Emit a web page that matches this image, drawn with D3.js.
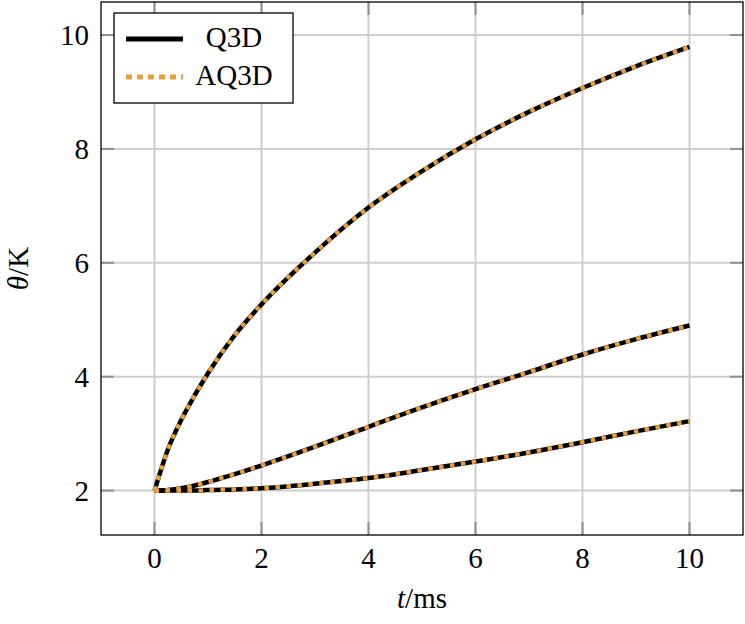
<!DOCTYPE html>
<html>
<head>
<meta charset="utf-8">
<script src="https://cdn.jsdelivr.net/npm/d3@7"></script>
<style>
  body { margin: 0; background: #fff; }
  text { font-family: "Liberation Serif", "DejaVu Serif", serif; }
</style>
</head>
<body>
<div id="chart"></div>
<script>
// time points (ms) and temperatures (K) for the three cases
var times = [0, 0.1, 0.25, 0.5, 0.75, 1, 1.5, 2, 3, 4, 5, 6, 7, 8, 9, 10];
var thetaHigh = [2, 2.3, 2.72, 3.24, 3.67, 4.06, 4.73, 5.27, 6.18, 6.97, 7.61, 8.17, 8.65, 9.07, 9.45, 9.79];
var thetaMid = [2, 2.0, 2.01, 2.04, 2.09, 2.15, 2.29, 2.44, 2.77, 3.12, 3.46, 3.78, 4.08, 4.39, 4.66, 4.90];
var thetaLow = [2, 2.0, 2.0, 2.0, 2.0, 2.01, 2.02, 2.04, 2.12, 2.22, 2.36, 2.51, 2.67, 2.85, 3.04, 3.22];
var seriesNames = ["Q3D", "AQ3D"];
var xTicks = [0, 2, 4, 6, 8, 10];
var yTicks = [2, 4, 6, 8, 10];

var W = 745, H = 624;
// plot box edges (note: "top" is reserved on window, so use box.*)
var box = { left: 101, right: 743, top: 2, bottom: 535 };

var svg = d3.select("#chart")
  .append("svg")
    .attr("width", W)
    .attr("height", H);

var x = d3.scaleLinear().domain([-1, 11]).range([box.left, box.right]);
var y = d3.scaleLinear().domain([1.22, 10.58]).range([box.bottom, box.top]);

// grid
svg.append("g")
  .selectAll("line")
  .data(xTicks)
  .enter().append("line")
    .attr("x1", function (d) { return x(d); })
    .attr("x2", function (d) { return x(d); })
    .attr("y1", box.top)
    .attr("y2", box.bottom)
    .attr("stroke", "#cfcfcf")
    .attr("stroke-width", 2);
svg.append("g")
  .selectAll("line")
  .data(yTicks)
  .enter().append("line")
    .attr("y1", function (d) { return y(d); })
    .attr("y2", function (d) { return y(d); })
    .attr("x1", box.left)
    .attr("x2", box.right)
    .attr("stroke", "#cfcfcf")
    .attr("stroke-width", 2);

// inner tick marks on all four sides
var tk = 13;
var ticks = svg.append("g").attr("stroke", "#8f8f8f").attr("stroke-width", 2);
xTicks.forEach(function (d) {
  ticks.append("line").attr("x1", x(d)).attr("x2", x(d)).attr("y1", box.bottom).attr("y2", box.bottom - tk);
  ticks.append("line").attr("x1", x(d)).attr("x2", x(d)).attr("y1", box.top).attr("y2", box.top + tk);
});
yTicks.forEach(function (d) {
  ticks.append("line").attr("y1", y(d)).attr("y2", y(d)).attr("x1", box.left).attr("x2", box.left + tk);
  ticks.append("line").attr("y1", y(d)).attr("y2", y(d)).attr("x1", box.right).attr("x2", box.right - tk);
});

// curves
var line = d3.line()
  .x(function (d) { return x(d[0]); })
  .y(function (d) { return y(d[1]); })
  .curve(d3.curveMonotoneX);

var allSeries = [thetaHigh, thetaMid, thetaLow].map(function (vals) {
  return times.map(function (t, i) { return [t, vals[i]]; });
});

svg.append("g")
  .selectAll("path")
  .data(allSeries)
  .enter().append("path")
    .attr("d", line)
    .attr("fill", "none")
    .attr("stroke", "#000")
    .attr("stroke-width", 4.5);

svg.append("g")
  .selectAll("path")
  .data(allSeries)
  .enter().append("path")
    .attr("d", line)
    .attr("fill", "none")
    .attr("stroke", "#e69f3c")
    .attr("stroke-width", 4.2)
    .attr("stroke-dasharray", "4.5,6.5");

// axis box
svg.append("rect")
  .attr("x", box.left)
  .attr("y", box.top)
  .attr("width", box.right - box.left)
  .attr("height", box.bottom - box.top)
  .attr("fill", "none")
  .attr("stroke", "#000")
  .attr("stroke-width", 1.3);

// tick labels
svg.append("g")
  .selectAll("text")
  .data(xTicks)
  .enter().append("text")
    .attr("x", function (d) { return x(d); })
    .attr("y", 568)
    .attr("text-anchor", "middle")
    .attr("font-size", 29)
    .text(function (d) { return d; });

svg.append("g")
  .selectAll("text")
  .data(yTicks)
  .enter().append("text")
    .attr("x", 89)
    .attr("y", function (d) { return y(d) + 10; })
    .attr("text-anchor", "end")
    .attr("font-size", 29)
    .text(function (d) { return d; });

// axis labels
var xl = svg.append("text")
  .attr("x", (box.left + box.right) / 2)
  .attr("y", 608)
  .attr("text-anchor", "middle")
  .attr("font-size", 29);
xl.append("tspan").attr("font-style", "italic").text("t");
xl.append("tspan").text("/ms");

var yl = svg.append("text")
  .attr("transform", "translate(28," + ((box.top + box.bottom) / 2) + ") rotate(-90)")
  .attr("text-anchor", "middle")
  .attr("font-size", 29);
yl.append("tspan").attr("font-style", "italic").text("θ");
yl.append("tspan").text("/K");

// legend
var lg = svg.append("g");
lg.append("rect")
  .attr("x", 114)
  .attr("y", 13)
  .attr("width", 179)
  .attr("height", 90)
  .attr("fill", "#fff")
  .attr("stroke", "#000")
  .attr("stroke-width", 1.3);
lg.append("line")
  .attr("x1", 126).attr("x2", 183).attr("y1", 39).attr("y2", 39)
  .attr("stroke", "#000").attr("stroke-width", 5);
lg.append("line")
  .attr("x1", 126).attr("x2", 183).attr("y1", 77).attr("y2", 77)
  .attr("stroke", "#e69f3c").attr("stroke-width", 5)
  .attr("stroke-dasharray", "6,5");
lg.selectAll("text.name")
  .data(seriesNames)
  .enter().append("text")
    .attr("x", 234)
    .attr("y", function (d, i) { return 47 + i * 38; })
    .attr("text-anchor", "middle")
    .attr("font-size", 29)
    .text(function (d) { return d; });
</script>
</body>
</html>
